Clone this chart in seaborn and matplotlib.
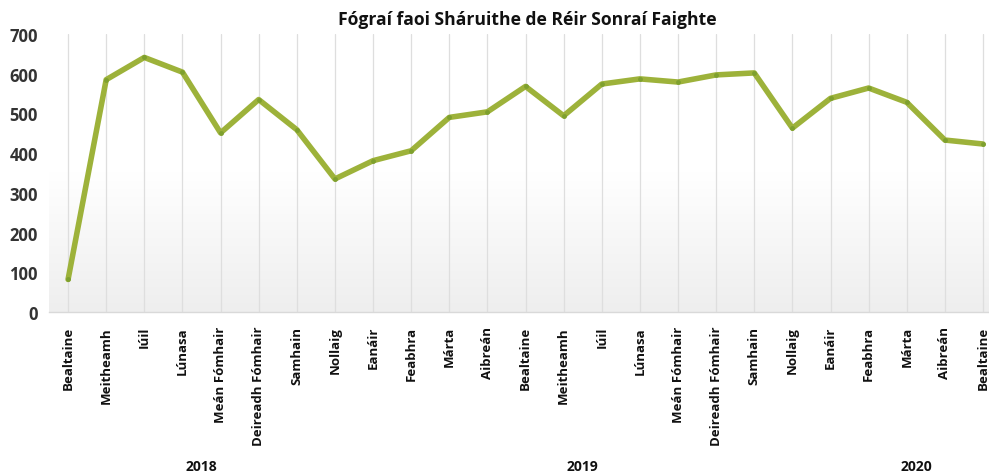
import numpy as np
import pandas as pd
import matplotlib
matplotlib.use("Agg")
import matplotlib.pyplot as plt
import seaborn as sns

months = ["Bealtaine", "Meitheamh", "Iúil", "Lúnasa", "Meán Fómhair", "Deireadh Fómhair",
          "Samhain", "Nollaig",
          "Eanáir", "Feabhra", "Márta", "Aibreán", "Bealtaine", "Meitheamh", "Iúil", "Lúnasa",
          "Meán Fómhair", "Deireadh Fómhair", "Samhain", "Nollaig",
          "Eanáir", "Feabhra", "Márta", "Aibreán", "Bealtaine"]
values = [82, 585, 641, 604, 451, 535, 459, 335,
          381, 406, 490, 504, 568, 494, 574, 587, 579, 597, 602, 463,
          538, 564, 528, 433, 423]
years = ["2018", "2019", "2020"]
year_counts = [8, 12, 5]
yticks = [0, 100, 200, 300, 400, 500, 600, 700]
title = "Fógraí faoi Sháruithe de Réir Sonraí Faighte"

sns.set_theme(style="white")
plt.rcParams["font.family"] = ["Open Sans", "DejaVu Sans"]

df = pd.DataFrame({"idx": np.arange(len(values)), "value": values})

fig = plt.figure(figsize=(9.89, 4.77), dpi=100)
W, H = 989, 477
left, right = 49, 989
bottom, top = 313, 35
ax = fig.add_axes([left / W, 1 - bottom / H, (right - left) / W, (bottom - top) / H])

n = len(values)
xmax = (n - 1) + (989 - 983) / 38.1
ax.set_xlim(-0.5, xmax)
ax.set_ylim(0, 700)

# gradient background
grad = np.linspace(0, 1, 256).reshape(-1, 1)
cmap = matplotlib.colors.LinearSegmentedColormap.from_list("g", ["#ffffff", "#ffffff", "#eeeeee"])
ax.imshow(grad, aspect="auto", cmap=cmap, extent=(-0.5, xmax, 0, 700), origin="upper", zorder=0)

for i in range(n):
    ax.axvline(i, color="#dedede", lw=0.9, zorder=1)

sns.lineplot(data=df, x="idx", y="value", ax=ax, color="#9db23a", lw=4.0, zorder=3,
             marker="o", markersize=3.5, markeredgewidth=0, markerfacecolor="#7ea02e")

for s in ["top", "right", "left"]:
    ax.spines[s].set_visible(False)
ax.spines["bottom"].set_color("#d9d9d9")
ax.spines["bottom"].set_linewidth(1.0)

ax.set_yticks(yticks)
ax.set_yticklabels([str(v) for v in yticks], fontsize=12, fontweight="bold", color="#333333")
ax.tick_params(axis="y", length=0, pad=8)
ax.set_xticks(range(n))
ax.set_xticklabels(months, rotation=90, fontsize=9.5, fontweight="bold", color="#111111",
                   va="top", ha="center")
ax.tick_params(axis="x", length=0, pad=10)
ax.set_xlabel("")
ax.set_ylabel("")

# year group labels, centred under each year's months
start = 0
xs_year = []
for c in year_counts:
    xs_year.append(start + (c - 1) / 2)
    start += c
xs_year[-1] += 0.25
ypos = 1 - 467 / H
for y, xc in zip(years, xs_year):
    xdisp = ax.transData.transform((xc, 0))[0] / fig.dpi / fig.get_figwidth()
    fig.text(xdisp, ypos, y, fontsize=10, fontweight="bold", color="#111111",
             ha="center", va="center")

fig.text(527 / W, 1 - 20 / H, title, fontsize=12.6, fontweight="bold", color="#111111",
         ha="center", va="center")

fig.savefig("out.png", dpi=100)
